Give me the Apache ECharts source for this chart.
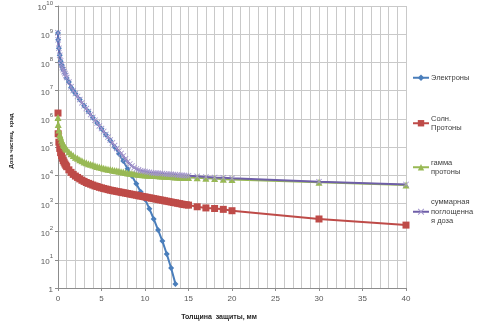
<!DOCTYPE html>
<html>
<head>
<meta charset="utf-8">
<script src="https://cdn.jsdelivr.net/npm/echarts@6/dist/echarts.min.js"></script>
<style>
  html, body { margin: 0; padding: 0; background: #fff; }
  #chart { width: 479px; height: 327px; }
</style>
</head>
<body>
<div id="chart"></div>
<script>
// толщина защиты, мм
const thickness = [0, 0.02, 0.1, 0.2, 0.3, 0.4, 0.5, 0.6, 0.7, 0.8, 0.9, 1, 1.25, 1.5, 1.75,
  2, 2.25, 2.5, 2.75, 3, 3.25, 3.5, 3.75, 4, 4.25, 4.5, 4.75, 5, 5.25, 5.5, 5.75,
  6, 6.25, 6.5, 6.75, 7, 7.25, 7.5, 7.75, 8, 8.25, 8.5, 8.75, 9, 9.25, 9.5, 9.75,
  10, 10.25, 10.5, 10.75, 11, 11.25, 11.5, 11.75, 12, 12.25, 12.5, 12.75,
  13, 13.25, 13.5, 13.75, 14, 14.25, 14.5, 14.75, 15, 16, 17, 18, 19, 20, 30, 40]

const electronThickness = [0, 0.02, 0.1, 0.2, 0.3, 0.4, 0.5, 0.6, 0.8, 1, 1.25, 1.5, 1.75, 2,
  2.5, 3, 3.5, 4, 4.5, 5, 5.5, 6, 6.5, 7, 7.5, 8, 8.5, 9, 9.5, 10, 10.5, 11, 11.5,
  12, 12.5, 13, 13.5]

const electrons = [1.1e9, 6.3e8, 3.2e8, 1.8e8, 1.1e8, 8.3e7, 6.6e7, 5.5e7, 4.0e7, 2.8e7,
  2.0e7, 1.3e7, 1.0e7, 7.9e6, 4.8e6, 2.9e6, 1.8e6, 1.1e6, 7.1e5, 4.4e5, 2.7e5, 1.7e5,
  1.0e5, 5.8e4, 3.2e4, 1.7e4, 9.3e3, 5.0e3, 2.6e3, 1.4e3, 650, 280, 115, 46, 16, 5.1, 1.4]

const solarProtons = [1.6e6, 2.95e5, 1.48e5, 8.9e4, 6.3e4, 5.0e4, 4.0e4, 3.3e4, 2.9e4, 2.5e4,
  2.24e4, 2.0e4, 1.55e4, 1.26e4, 1.07e4,
  9330, 8320, 7410, 6610, 6030, 5500, 5130, 4790, 4470, 4170, 3980, 3720,
  3550, 3390, 3240, 3090, 2950, 2850, 2750, 2660, 2570, 2480, 2400, 2320,
  2240, 2160, 2090, 2020, 1950, 1880, 1820, 1760, 1700, 1640, 1580, 1530,
  1480, 1430, 1380, 1330, 1290, 1240, 1200, 1160, 1120, 1080, 1050, 1010,
  980, 940, 910, 890, 870, 760, 690, 660, 615, 550, 280, 170]

const gammaProtons = [1.12e6, 6.3e5, 4.0e5, 2.8e5, 2.24e5, 1.78e5, 1.48e5, 1.26e5, 1.12e5, 1.0e5,
  9.1e4, 8.3e4, 6.8e4, 5.75e4, 5.0e4,
  4.37e4, 3.98e4, 3.55e4, 3.24e4, 2.95e4, 2.75e4, 2.57e4, 2.43e4, 2.29e4, 2.16e4, 2.04e4, 1.95e4,
  1.86e4, 1.78e4, 1.70e4, 1.64e4, 1.58e4, 1.53e4, 1.48e4, 1.43e4, 1.38e4, 1.33e4, 1.29e4, 1.24e4,
  1.20e4, 1.175e4, 1.15e4, 1.12e4, 1.10e4, 1.07e4, 1.05e4, 1.035e4, 1.02e4, 1.01e4, 1.0e4, 9890,
  9770, 9660, 9550, 9440, 9330, 9230, 9120, 9020, 8910, 8810, 8710, 8610,
  8510, 8410, 8320, 8320, 8220, 8130, 7760, 7590, 7240, 7080, 5620, 4470]

const totalDose = [1.12e9, 6.3e8, 3.16e8, 1.78e8, 1.12e8, 8.3e7, 6.6e7, 5.5e7, 4.7e7, 4.0e7,
  3.4e7, 2.9e7, 2.0e7, 1.38e7, 1.0e7,
  7.9e6, 6.2e6, 4.8e6, 3.7e6, 2.9e6, 2.3e6, 1.8e6, 1.41e6, 1.12e6, 8.9e5, 7.1e5, 5.6e5,
  4.5e5, 3.55e5, 2.8e5, 2.24e5, 1.78e5, 1.41e5, 1.12e5, 8.9e4, 7.2e4, 5.9e4, 4.8e4, 3.8e4,
  3.0e4, 2.5e4, 2.14e4, 1.86e4, 1.66e4, 1.55e4, 1.45e4, 1.40e4, 1.35e4, 1.30e4, 1.26e4, 1.23e4,
  1.2e4, 1.19e4, 1.17e4, 1.16e4, 1.15e4, 1.12e4, 1.10e4, 1.08e4, 1.07e4, 1.06e4, 1.05e4, 1.02e4,
  1.0e4, 9890, 9770, 9660, 9550, 9120, 8710, 8320, 8130, 7760, 5890, 4680]

const seriesNames = ['Электроны', 'Солн.\nПротоны', 'гамма\nпротоны', 'суммарная\nпоглощенна\nя доза']

const FONT = 'Liberation Sans, Arial, sans-serif'
const GRID = '#c9c9c9'
const LABEL = '#595959'
const CROSS = 'path://M0,1L1,0L5,4L9,0L10,1L6,5L10,9L9,10L5,6L1,10L0,9L4,5Z'

const pairs = (xs, vals) => xs.map((x, i) => [x, vals[i]])

const chart = echarts.init(document.getElementById('chart'), null, { renderer: 'canvas' })

const legendTops = [73, 109, 153, 188]
const LH = 9.5

const lineSeries = (name, data, color, symbol, size, symColor) => ({
  name,
  type: 'line',
  data,
  symbol,
  symbolSize: size,
  showAllSymbol: true,
  lineStyle: { color, width: 2 },
  itemStyle: { color: symColor || color },
})

chart.setOption({
  backgroundColor: '#fff',
  animation: false,
  grid: { left: 54, right: 73, top: 5, bottom: 39, containLabel: false },
  legend: seriesNames.map((name, i) => {
    const lines = name.split('\n').length
    return {
      orient: 'vertical',
      left: 412,
      top: legendTops[i],
      padding: 0,
      itemWidth: 16,
      itemHeight: 8,
      itemGap: 0,
      selectedMode: false,
      data: [{
        name,
        textStyle: {
          color: '#404040',
          fontSize: 7.5,
          fontFamily: FONT,
          lineHeight: LH,
          padding: [(lines - 1) * LH, 0, 0, -3],
        },
      }],
    }
  }),
  xAxis: {
    type: 'value',
    min: 0,
    max: 40,
    interval: 5,
    name: 'Толщина  защиты, мм',
    nameLocation: 'middle',
    nameGap: 26,
    nameTextStyle: {
      color: '#262626', fontSize: 7, fontWeight: 'bold', fontFamily: FONT,
      padding: [0, 26, 0, 0],
    },
    axisLine: { lineStyle: { color: '#8c8c8c' } },
    axisTick: { show: true, length: 3, lineStyle: { color: '#8c8c8c' } },
    axisLabel: { color: LABEL, fontSize: 8, fontFamily: FONT, margin: 7 },
    splitLine: { show: true, lineStyle: { color: GRID, width: 1 } },
    minorTick: { show: false, splitNumber: 5 },
    minorSplitLine: { show: true, lineStyle: { color: GRID, width: 1 } },
  },
  yAxis: {
    type: 'log',
    logBase: 10,
    min: 1,
    max: 1e10,
    interval: 1,
    name: 'Доза частиц,  крад',
    nameLocation: 'middle',
    nameGap: 44,
    nameRotate: 90,
    nameTextStyle: {
      color: '#262626', fontSize: 6, fontWeight: 'bold', fontFamily: FONT,
      padding: [0, 0, 0, 12],
    },
    axisLine: { show: true, lineStyle: { color: '#8c8c8c' } },
    axisTick: { show: true, length: 3, lineStyle: { color: '#8c8c8c' } },
    axisLabel: {
      margin: 5,
      formatter: (v) => {
        const e = Math.round(Math.log10(v))
        return e === 0 ? '{b|1}' : '{b|10}{e|' + e + '}'
      },
      rich: {
        b: { color: LABEL, fontSize: 8, fontFamily: FONT, lineHeight: 12, verticalAlign: 'bottom' },
        e: { color: LABEL, fontSize: 6, fontFamily: FONT, lineHeight: 12, verticalAlign: 'top' },
      },
    },
    splitLine: { show: true, lineStyle: { color: GRID, width: 1 } },
  },
  series: [
    lineSeries(seriesNames[0], pairs(electronThickness, electrons), '#4a7ebb', 'diamond', 6),
    lineSeries(seriesNames[1], pairs(thickness, solarProtons), '#be4b48', 'rect', 7),
    lineSeries(seriesNames[2], pairs(thickness, gammaProtons), '#98b954', 'triangle', 7),
    lineSeries(seriesNames[3], pairs(thickness, totalDose), '#6f5fa8', CROSS, 6, '#a294cc'),
  ],
})
</script>
</body>
</html>
